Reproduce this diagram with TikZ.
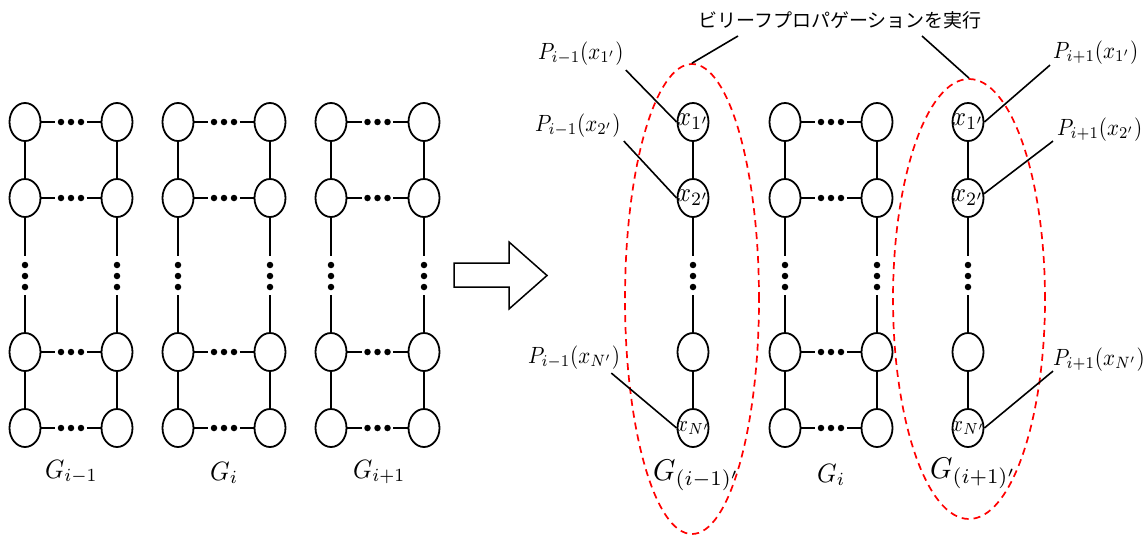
\documentclass[tikz,border=0pt]{standalone}
\usepackage{graphicx}
\usepackage{fontspec}
\newfontfamily\jpfont{Noto Sans CJK JP}
\usetikzlibrary{shapes.geometric}

\tikzset{
  vtx/.style={draw, ellipse, line width=1.8pt, minimum width=31pt, minimum height=38pt, inner sep=0pt},
  vdot/.style={circle, fill, inner sep=0pt, minimum size=6.5pt},
  edge/.style={line width=1.8pt},
  lead/.style={line width=1.6pt},
  region/.style={draw=red, line width=1.7pt, dash pattern=on 7pt off 5pt, ellipse, inner sep=0pt},
  plab/.style={inner sep=0pt, anchor=base west},
  vtxt/.style={inner sep=0pt},
}
% math label scaled from 10pt: #1 horizontal, #2 vertical factor
\newcommand\sz[3]{\scalebox{#1}[#2]{$#3$}}

% one column of four vertices: #1 prefix, #2 x
\newcommand\vcolumn[2]{%
  \foreach \r/\y in {1/122,2/198,3/352,4/428}{
    \node[vtx] (#1\r) at (#2,\y) {};
  }
  \node[vdot] (#1va) at (#2,265) {};
  \node[vdot] (#1vb) at (#2,276) {};
  \node[vdot] (#1vc) at (#2,287) {};
  \draw[edge] (#11) -- (#12);
  \draw[edge, shorten >=5.75pt] (#12) -- (#1va);
  \draw[edge, shorten <=4.75pt] (#1vc) -- (#13);
  \draw[edge] (#13) -- (#14);
}

% ladder graph: #1 prefix, #2 left x, #3 right x, #4 middle x
\newcommand\ladder[4]{%
  \vcolumn{#1L}{#2}
  \vcolumn{#1R}{#3}
  \foreach \r/\y in {1/122,2/198,3/352,4/428}{
    \node[vdot] (#1ha\r) at (#4-10,\y) {};
    \node[vdot] (#1hb\r) at (#4,\y) {};
    \node[vdot] (#1hc\r) at (#4+10,\y) {};
    \draw[edge, shorten >=2.5pt] (#1L\r) -- (#1ha\r);
    \draw[edge, shorten <=2.5pt] (#1hc\r) -- (#1R\r);
  }
}

\begin{document}
\begin{tikzpicture}[x=1pt, y=-1pt]
  \useasboundingbox (0,0) rectangle (1148,538);

  % left: three ladder graphs
  \ladder{a}{25}{117}{71}
  \ladder{b}{178}{270}{224}
  \ladder{c}{331}{424}{377.5}
  \node[plab] (ga) at (45,478) {\sz{2.45}{2.65}{G_{i-1}}};
  \node[plab] (gb) at (210,480) {\sz{2.5}{2.65}{G_{i}}};
  \node[plab] (gc) at (353,478) {\sz{2.45}{2.65}{G_{i+1}}};

  % block arrow
  \draw[line width=1.5pt] (454,263) -- (509,263) -- (509,242) -- (547,275.5)
    -- (509,309) -- (509,287) -- (454,287) -- cycle;

  % right: separated chains and the middle ladder
  \vcolumn{p}{693}
  \vcolumn{q}{968}
  \ladder{m}{785}{877}{831}
  \node[vtxt] (pt1) at (p1) {\sz{2.5}{2.7}{x_{1'}}};
  \node[vtxt] (pt2) at (p2) {\sz{2.5}{2.7}{x_{2'}}};
  \node[vtxt] (pt4) at (p4) {\sz{2.1}{2.3}{x_{N'}}};
  \node[vtxt] (qt1) at (q1) {\sz{2.5}{2.7}{x_{1'}}};
  \node[vtxt] (qt2) at (q2) {\sz{2.5}{2.7}{x_{2'}}};
  \node[vtxt] (qt4) at (q4) {\sz{2.1}{2.3}{x_{N'}}};

  \node[plab] (gp) at (653,480) {\sz{2.85}{3.0}{G_{(i-1)'}}};
  \node[plab] (gm) at (817,482) {\sz{2.5}{2.65}{G_{i}}};
  \node[plab] (gq) at (930,478) {\sz{2.85}{3.0}{G_{(i+1)'}}};

  % belief propagation regions
  \node[region, minimum width=134pt, minimum height=470pt] (rl) at (692,299) {};
  \node[region, minimum width=152pt, minimum height=440pt] (rr) at (969,299) {};

  \node[inner sep=0pt, font=\jpfont\fontsize{19}{22}\selectfont] (title) at (840,20) {ビリーフプロパゲーションを実行};
  \coordinate (t1) at (738,36);
  \coordinate (t2) at (922,36);
  \draw[lead] (t1) -- (rl.north);
  \draw[lead] (t2) -- (rr.north);

  % marginal labels
  \node[plab] (l1) at (538,59) {\sz{2.1}{2.35}{P_{i-1}(x_{1'})}};
  \node[plab] (l2) at (535,131) {\sz{2.1}{2.35}{P_{i-1}(x_{2'})}};
  \node[plab] (l3) at (528,363) {\sz{2.1}{2.35}{P_{i-1}(x_{N'})}};
  \node[plab] (r1) at (1053,58) {\sz{2.1}{2.35}{P_{i+1}(x_{1'})}};
  \node[plab] (r2) at (1057,135) {\sz{2.1}{2.35}{P_{i+1}(x_{2'})}};
  \node[plab] (r3) at (1053,365) {\sz{2.1}{2.35}{P_{i+1}(x_{N'})}};

  \draw[lead] ([xshift=2pt, yshift=-5pt]l1.south east) -- (p1.west);
  \draw[lead] ([xshift=3pt, yshift=-4pt]l2.south east) -- (p2.west);
  \draw[lead] ([xshift=-9pt, yshift=-4pt]l3.south east) -- (p4.west);
  \draw[lead] ([xshift=-3pt, yshift=-1pt]r1.south west) -- (q1.east);
  \draw[lead] ([xshift=-4pt]r2.south west) -- (q2.15);
  \draw[lead] (r3.south west) -- (q4.east);
\end{tikzpicture}
\end{document}
